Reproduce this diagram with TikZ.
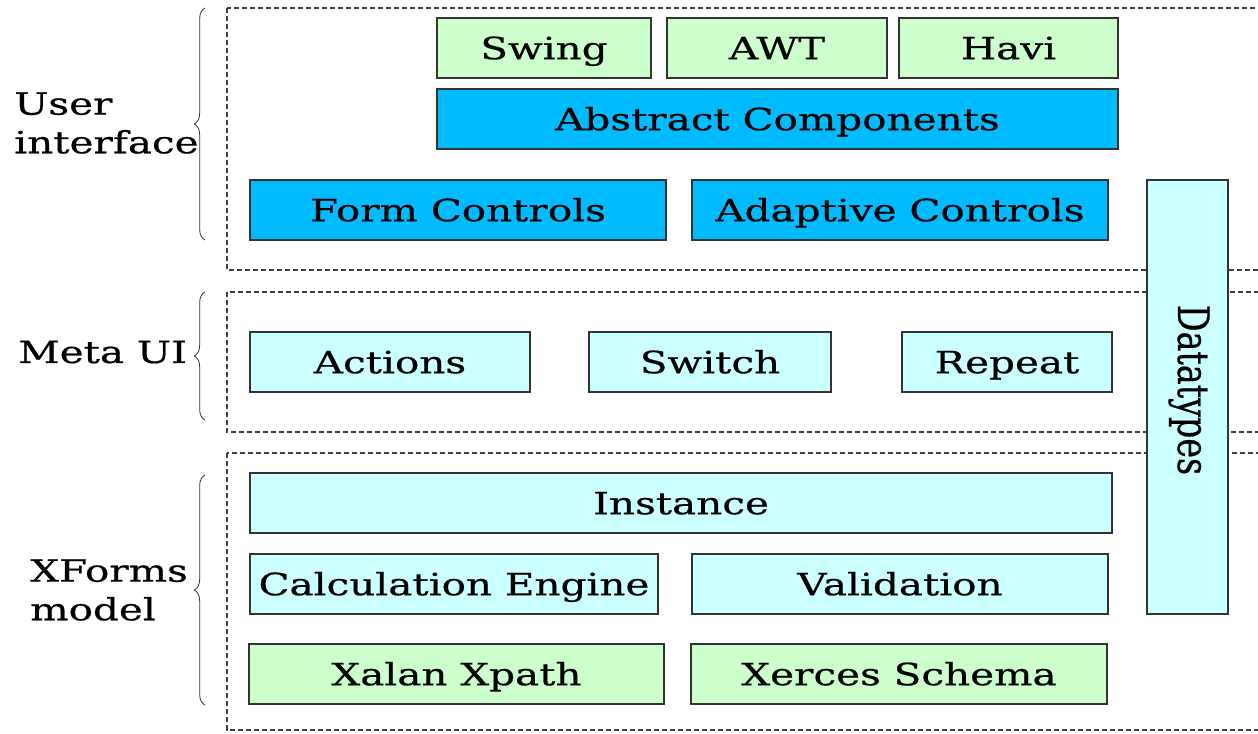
\documentclass[tikz,border=0pt]{standalone}
\usepackage{fontspec}
\setmainfont{DejaVu Serif}
\newfontfamily\wide[FakeStretch=1.32,FakeBold=0.6]{DejaVu Serif}
\newfontfamily\rot[FakeBold=0.6]{DejaVu Serif}
\usetikzlibrary{decorations.pathreplacing}
\definecolor{cgreen}{RGB}{204,255,204}
\definecolor{cblue}{RGB}{0,187,255}
\definecolor{ccyan}{RGB}{204,255,255}
\begin{document}
\begin{tikzpicture}[x=0.75pt,y=-0.75pt,
  blk/.style={draw=black!80,line width=0.9pt,inner sep=0pt,text height=16.8pt,text depth=0pt,font=\wide\fontsize{23}{24}\selectfont},
  grn/.style={blk,fill=cgreen},
  blu/.style={blk,fill=cblue},
  cya/.style={blk,fill=ccyan},
  layer/.style={draw=black!75,line width=0.8pt,dash pattern=on 4pt off 2pt},
  brc/.style={decorate,decoration={brace,amplitude=8pt},draw=black!80,line width=0.6pt},
  lbl/.style={font=\wide\fontsize{23}{29}\selectfont,align=left,anchor=west,inner sep=0pt}]
\useasboundingbox (0,0) rectangle (1258,733);
\clip (0,0) rectangle (1258,733);
\fill[white] (0,0) rectangle (1258,733);
% layers
\draw[layer] (227,8) rectangle (1275,270);
\draw[layer] (227,292) rectangle (1275,432);
\draw[layer] (227,453) rectangle (1275,730);
% boxes
\node[grn,minimum width=214*0.75pt,minimum height=60*0.75pt] (swing) at (544,48) {Swing};
\node[grn,minimum width=220*0.75pt,minimum height=60*0.75pt] (awt) at (777,48) {AWT};
\node[grn,minimum width=219*0.75pt,minimum height=60*0.75pt] (havi) at (1008.5,48) {Havi};
\node[blu,minimum width=681*0.75pt,minimum height=60*0.75pt] (abs) at (777.5,119) {Abstract Components};
\node[blu,minimum width=416*0.75pt,minimum height=60*0.75pt] (form) at (458,210) {Form Controls};
\node[blu,minimum width=416*0.75pt,minimum height=60*0.75pt] (adapt) at (900,210) {Adaptive Controls};
\node[cya,minimum width=280*0.75pt,minimum height=60*0.75pt] (actions) at (390,362) {Actions};
\node[cya,minimum width=242*0.75pt,minimum height=60*0.75pt] (switch) at (710,362) {Switch};
\node[cya,minimum width=210*0.75pt,minimum height=60*0.75pt] (repeat) at (1007,362) {Repeat};
\node[cya,minimum width=862*0.75pt,minimum height=60*0.75pt] (inst) at (681,503) {Instance};
\node[cya,minimum width=408*0.75pt,minimum height=60*0.75pt] (calc) at (454,584) {Calculation Engine};
\node[cya,minimum width=416*0.75pt,minimum height=60*0.75pt] (valid) at (900,584) {Validation};
\node[grn,minimum width=415*0.75pt,minimum height=60*0.75pt] (xalan) at (456.5,674) {Xalan Xpath};
\node[grn,minimum width=416*0.75pt,minimum height=60*0.75pt] (xerces) at (899,674) {Xerces Schema};
\node[cya,minimum width=81*0.75pt,minimum height=434*0.75pt] (dt) at (1187.5,397) {};
\node[rotate=-90,inner sep=0pt,font=\rot\fontsize{25}{26}\selectfont,text height=12pt,text depth=0pt] (dtl) at (1186,390) {\scalebox{1}[1.3]{Datatypes}};
% braces
\draw[brc] (205,240) -- (205,8);
\draw[brc] (205,420) -- (205,292);
\draw[brc] (205,705) -- (205,475);
% labels
\node[lbl] (ui) at (14,123) {User\\interface};
\node[lbl] (meta) at (18,352) {Meta UI};
\node[lbl] (xf) at (30,590) {XForms\\model};
\end{tikzpicture}
\end{document}
